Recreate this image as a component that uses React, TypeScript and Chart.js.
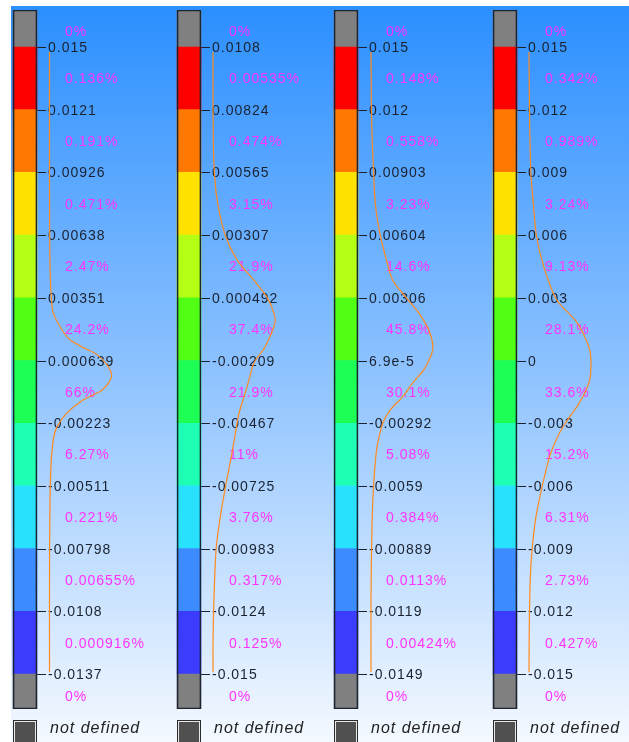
import React, { useEffect, useRef } from "react";
import { Chart, registerables } from "chart.js";

Chart.register(...registerables);

// ---------- data (top to bottom) ----------
const ticks1 = ["0.015", "0.0121", "0.00926", "0.00638", "0.00351", "0.000639", "-0.00223", "-0.00511", "-0.00798", "-0.0108", "-0.0137"];
const ticks2 = ["0.0108", "0.00824", "0.00565", "0.00307", "0.000492", "-0.00209", "-0.00467", "-0.00725", "-0.00983", "-0.0124", "-0.015"];
const ticks3 = ["0.015", "0.012", "0.00903", "0.00604", "0.00306", "6.9e-5", "-0.00292", "-0.0059", "-0.00889", "-0.0119", "-0.0149"];
const ticks4 = ["0.015", "0.012", "0.009", "0.006", "0.003", "0", "-0.003", "-0.006", "-0.009", "-0.012", "-0.015"];

const percents1 = ["0%", "0.136%", "0.191%", "0.471%", "2.47%", "24.2%", "66%", "6.27%", "0.221%", "0.00655%", "0.000916%", "0%"];
const percents2 = ["0%", "0.00535%", "0.474%", "3.15%", "21.9%", "37.4%", "21.9%", "11%", "3.76%", "0.317%", "0.125%", "0%"];
const percents3 = ["0%", "0.148%", "0.558%", "3.23%", "14.6%", "45.8%", "30.1%", "5.08%", "0.384%", "0.0113%", "0.00424%", "0%"];
const percents4 = ["0%", "0.342%", "0.989%", "3.24%", "9.13%", "28.1%", "33.6%", "15.2%", "6.31%", "2.73%", "0.427%", "0%"];

// distribution curve: position along the legend (cell units, 0 = lowest tick, 10 = highest tick) and normalized density
const curvePos1 = [9.92, 8.0, 7.0, 6.44, 6.0, 5.76, 5.49, 5.33, 5.2, 5.09, 4.93, 4.74, 4.53, 4.37, 4.16, 3.94, 3.73, 3.25, 2.46, 1.5, 0.03];
const curveDen1 = [0, 0, 0.003, 0.01, 0.03, 0.06, 0.2, 0.33, 0.56, 0.77, 0.93, 1.0, 0.85, 0.54, 0.28, 0.12, 0.06, 0.02, 0.005, 0, 0];
const curvePos2 = [9.92, 8.5, 7.88, 7.48, 6.99, 6.6, 6.28, 6.01, 5.76, 5.6, 5.22, 4.96, 4.69, 4.42, 4.16, 3.89, 3.49, 2.98, 2.46, 1.99, 1.18, 0.5, 0.03];
const curveDen2 = [0, 0.005, 0.03, 0.08, 0.2, 0.39, 0.66, 0.87, 0.98, 1.0, 0.84, 0.66, 0.58, 0.5, 0.42, 0.37, 0.3, 0.2, 0.11, 0.05, 0.015, 0, 0];
const curvePos3 = [9.92, 8.84, 8.04, 7.5, 6.99, 6.6, 6.28, 6.01, 5.76, 5.49, 5.22, 5.06, 4.85, 4.64, 4.42, 4.21, 4.0, 3.57, 2.98, 2.3, 1.2, 0.03];
const curveDen3 = [0, 0.01, 0.04, 0.07, 0.15, 0.25, 0.35, 0.56, 0.77, 0.93, 1.0, 0.96, 0.85, 0.67, 0.51, 0.31, 0.19, 0.09, 0.04, 0.015, 0, 0];
const curvePos4 = [9.92, 8.84, 7.99, 7.5, 6.99, 6.49, 5.96, 5.65, 5.44, 5.17, 4.9, 4.69, 4.48, 4.26, 4.05, 3.84, 3.49, 2.98, 2.49, 1.99, 1.5, 0.8, 0.03];
const curveDen4 = [0, 0.01, 0.03, 0.07, 0.12, 0.24, 0.45, 0.74, 0.87, 0.98, 1.0, 0.98, 0.9, 0.77, 0.62, 0.49, 0.34, 0.21, 0.11, 0.05, 0.02, 0.005, 0];

const cellColors = ["#ff0000", "#ff7800", "#ffe100", "#b4ff14", "#50ff14", "#1eff55", "#1effb4", "#28e1ff", "#3c8cff", "#3c3cff"];
const GRAY = "#808080";
const NOT_DEFINED = "not defined";

// ---------- layout ----------
const PAGE_W = 629;
const PAGE_H = 742;
const BAR_LEFTS = [13, 177, 334, 493];
const CURVE_GAPS = [12.5, 12, 13, 12];
const BAR_W = 24;
const PAD_L = 3;
const BAR_TOP = 10;
const BAR_BOTTOM = 709;
const V_MIN = -0.558;
const V_MAX = 10.59;
const CURVE_AMP = 62;
const TOP_LABEL_V = 10.26;
const BOTTOM_LABEL_V = -0.35;

const columns = [
  { ticks: ticks1, percents: percents1, pos: curvePos1, den: curveDen1 },
  { ticks: ticks2, percents: percents2, pos: curvePos2, den: curveDen2 },
  { ticks: ticks3, percents: percents3, pos: curvePos3, den: curveDen3 },
  { ticks: ticks4, percents: percents4, pos: curvePos4, den: curveDen4 },
];

function LegendColumn({ index }: { index: number }) {
  const ref = useRef<HTMLCanvasElement>(null);
  const left = BAR_LEFTS[index] - PAD_L;
  const width = Math.min(160, PAGE_W - left);
  const col = columns[index];

  useEffect(() => {
    const canvas = ref.current!;
    const barCenter = PAD_L + BAR_W / 2;
    const barRight = PAD_L + BAR_W;
    const base = barRight + CURVE_GAPS[index];
    const xdMin = -base / CURVE_AMP;
    const xdMax = xdMin + width / CURVE_AMP;

    const cells: any[] = [{ x: barCenter, y: [10, V_MAX] }];
    const colors: string[] = [GRAY];
    cellColors.forEach((c, i) => {
      cells.push({ x: barCenter, y: [9 - i, 10 - i] });
      colors.push(c);
    });
    cells.push({ x: barCenter, y: [V_MIN, 0] });
    colors.push(GRAY);

    const curve = col.pos.map((p, i) => ({ x: col.den[i], y: p }));

    const textPlugin = {
      id: "legendText" + index,
      beforeDatasetsDraw(chart: any) {
        const ctx: CanvasRenderingContext2D = chart.ctx;
        const ys = chart.scales.y;
        ctx.save();
        ctx.font = '14px "Liberation Sans", Arial, sans-serif';
        (ctx as any).letterSpacing = "1px";
        ctx.textAlign = "left";
        ctx.textBaseline = "middle";
        col.ticks.forEach((t, k) => {
          const py = Math.round(ys.getPixelForValue(10 - k)) + 0.5;
          ctx.strokeStyle = "#1a2230";
          ctx.lineWidth = 1;
          ctx.beginPath();
          ctx.moveTo(barRight, py);
          ctx.lineTo(barRight + 9, py);
          ctx.stroke();
          ctx.fillStyle = "#1a2230";
          ctx.fillText(t, barRight + 11, py + 1);
        });
        ctx.fillStyle = "#ff33ff";
        col.percents.forEach((p, k) => {
          let v;
          if (k === 0) v = TOP_LABEL_V;
          else if (k === col.percents.length - 1) v = BOTTOM_LABEL_V;
          else v = 10.5 - k;
          ctx.fillText(p, barRight + 28, ys.getPixelForValue(v) + 1);
        });
        ctx.restore();
      },
      afterDraw(chart: any) {
        const ctx: CanvasRenderingContext2D = chart.ctx;
        ctx.save();
        const bx = PAD_L;
        const by = 720;
        ctx.fillStyle = "#2b2b2b";
        ctx.fillRect(bx, by, BAR_W, PAGE_H - by);
        ctx.fillStyle = "#e8e8e8";
        ctx.fillRect(bx + 1, by + 1, BAR_W - 2, PAGE_H - by - 1);
        ctx.fillStyle = "#505050";
        ctx.fillRect(bx + 2, by + 2, BAR_W - 4, PAGE_H - by - 2);
        ctx.font = 'italic 16px "Liberation Sans", Arial, sans-serif';
        (ctx as any).letterSpacing = "1px";
        ctx.fillStyle = "#222222";
        ctx.textAlign = "left";
        ctx.textBaseline = "alphabetic";
        ctx.fillText(NOT_DEFINED, barRight + 13, 733);
        ctx.restore();
      },
    };

    const chart = new Chart(canvas, {
      type: "bar",
      data: {
        datasets: [
          {
            type: "line",
            data: curve,
            xAxisID: "xd",
            yAxisID: "y",
            borderColor: "#ff8a1e",
            borderWidth: 1.2,
            pointRadius: 0,
            tension: 0.3,
            fill: false,
            order: 0,
          } as any,
          {
            type: "bar",
            data: [{ x: barCenter, y: [V_MIN, V_MAX] }],
            xAxisID: "x",
            yAxisID: "y",
            backgroundColor: "rgba(0,0,0,0)",
            borderColor: "#1b2430",
            borderWidth: 1,
            borderSkipped: false,
            barThickness: BAR_W,
            grouped: false,
            order: 1,
          } as any,
          {
            type: "bar",
            data: cells,
            xAxisID: "x",
            yAxisID: "y",
            backgroundColor: colors,
            borderWidth: 0,
            barThickness: BAR_W,
            grouped: false,
            order: 2,
          } as any,
        ],
      },
      options: {
        responsive: false,
        maintainAspectRatio: false,
        animation: false,
        events: [],
        layout: { padding: { left: 0, right: 0, top: BAR_TOP, bottom: PAGE_H - BAR_BOTTOM } },
        plugins: { legend: { display: false }, tooltip: { enabled: false } },
        scales: {
          x: { type: "linear", display: false, min: 0, max: width, offset: false },
          xd: { type: "linear", display: false, min: xdMin, max: xdMax, offset: false },
          y: { type: "linear", display: false, min: V_MIN, max: V_MAX },
        },
      } as any,
      plugins: [textPlugin],
    });
    return () => chart.destroy();
  }, []);

  return (
    <canvas
      ref={ref}
      width={width}
      height={PAGE_H}
      style={{ position: "absolute", left, top: 0, width, height: PAGE_H }}
    />
  );
}

export default function App() {
  return (
    <div
      style={{
        position: "absolute",
        left: 0,
        top: 0,
        width: PAGE_W,
        height: PAGE_H,
        overflow: "hidden",
        background: "#ffffff",
      }}
    >
      <div
        style={{
          position: "absolute",
          left: 11,
          top: 6,
          right: 0,
          bottom: 0,
          background: "linear-gradient(to bottom, #2b8fff 0%, #8fc3ff 50%, #f4f9ff 100%)",
        }}
      />
      {columns.map((_, i) => (
        <LegendColumn key={i} index={i} />
      ))}
    </div>
  );
}
